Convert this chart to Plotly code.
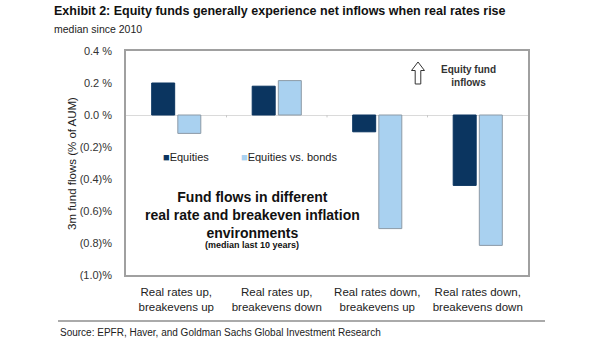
import plotly.graph_objects as go

# Regimes and median 3m fund flows (% of AUM)
regimes = [
    "Real rates up,<br>breakevens up",
    "Real rates up,<br>breakevens down",
    "Real rates down,<br>breakevens up",
    "Real rates down,<br>breakevens down",
]
equities = [0.20, 0.18, -0.105, -0.44]
equities_vs_bonds = [-0.115, 0.215, -0.71, -0.815]

y_ticks = [0.4, 0.2, 0.0, -0.2, -0.4, -0.6, -0.8, -1.0]
y_tick_text = ["0.4 %", "0.2 %", "0.0 %", "(0.2)%", "(0.4)%", "(0.6)%", "(0.8)%", "(1.0)%"]

NAVY = "#0B3560"
LIGHT = "#A9D1F0"
FONT = "Arial, Liberation Sans, sans-serif"

W, H = 605, 341
L, R, T, B = 126, 77, 51, 66
PW, PH = W - L - R, H - T - B


def px(x):
    return (x - L) / PW


def py(y):
    return (H - B - y) / PH


def note(x, y, text, size, color="#222", anchor="left", **kw):
    return dict(xref="paper", yref="paper", x=px(x), y=py(y), text=text,
                xanchor=anchor, yanchor="middle", showarrow=False,
                font=dict(size=size, color=color), **kw)


fig = go.Figure()
fig.add_trace(go.Bar(x=regimes, y=equities, name="Equities",
                     marker=dict(color=NAVY, line=dict(color=NAVY, width=1))))
fig.add_trace(go.Bar(x=regimes, y=equities_vs_bonds, name="Equities vs. bonds",
                     marker=dict(color=LIGHT, line=dict(color="#8C9AA6", width=1))))

annotations = [
    note(52, 11, "<b>Exhibit 2: Equity funds generally experience net inflows when real rates rise</b>",
         12.5, "#111"),
    note(52, 29, "median since 2010", 10.5),
    note(72, 164, "3m fund flows (% of AUM)", 11.5, anchor="center", textangle=-90),
    note(58, 332, "Source: EPFR, Haver, and Goldman Sachs Global Investment Research", 10),
    # legend
    note(161, 157, f'<span style="color:{NAVY}">■</span>Equities', 11),
    note(239, 157, f'<span style="color:{LIGHT}">■</span>Equities vs. bonds', 11),
    # inset caption
    note(252, 215, "<b>Fund flows in different<br>real rate and breakeven inflation<br>environments</b>",
         14, "#111", anchor="center"),
    note(252, 245, "<b>(median last 10 years)</b>", 9, "#111", anchor="center"),
    note(468, 76, "<b>Equity fund<br>inflows</b>", 10, "#333", anchor="center"),
]

# outlined up arrow next to the inflow note
ax, atop, abase, abot = 418, 62, 70.5, 84
hw, sw = 6.5, 2.8
arrow_pts = [(ax, atop), (ax + hw, abase), (ax + sw, abase), (ax + sw, abot),
             (ax - sw, abot), (ax - sw, abase), (ax - hw, abase)]
arrow_path = "M" + " L".join(f"{px(x):.4f},{py(y):.4f}" for x, y in arrow_pts) + " Z"

shapes = [
    dict(type="path", xref="paper", yref="paper", path=arrow_path,
         line=dict(color="#333", width=1), fillcolor="white"),
    dict(type="line", xref="paper", yref="paper", x0=px(58), x1=px(545), y0=py(321), y1=py(321),
         line=dict(color="#AAAAAA", width=2)),
]
# small category ticks on the zero line
for b in [0.5, 1.5, 2.5]:
    shapes.append(dict(type="line", xref="x", yref="y", x0=b, x1=b, y0=0, y1=-0.015,
                       line=dict(color="#C8C8C8", width=1)))

fig.update_layout(
    width=W, height=H,
    margin=dict(l=L, r=R, t=T, b=B),
    paper_bgcolor="white", plot_bgcolor="white",
    font=dict(family=FONT, size=11, color="#222"),
    barmode="group", bargap=0.48, bargroupgap=0.12,
    showlegend=False,
    annotations=annotations,
    shapes=shapes,
)
fig.update_xaxes(
    type="category", range=[-0.5, 3.5],
    showline=True, linecolor="#A0A0A0", linewidth=1.5, mirror=True,
    ticks="", showgrid=False, tickfont=dict(size=11.5, color="#222"),
    ticklabelstandoff=5,
)
fig.update_yaxes(
    range=[-1.0, 0.4], tickvals=y_ticks, ticktext=y_tick_text,
    showline=True, linecolor="#A0A0A0", linewidth=1.5, mirror=True,
    showgrid=False, zeroline=True, zerolinecolor="#DADADA", zerolinewidth=1,
    ticks="", tickfont=dict(size=11, color="#333"), ticklabelstandoff=10,
)

fig.write_html("out.html")
